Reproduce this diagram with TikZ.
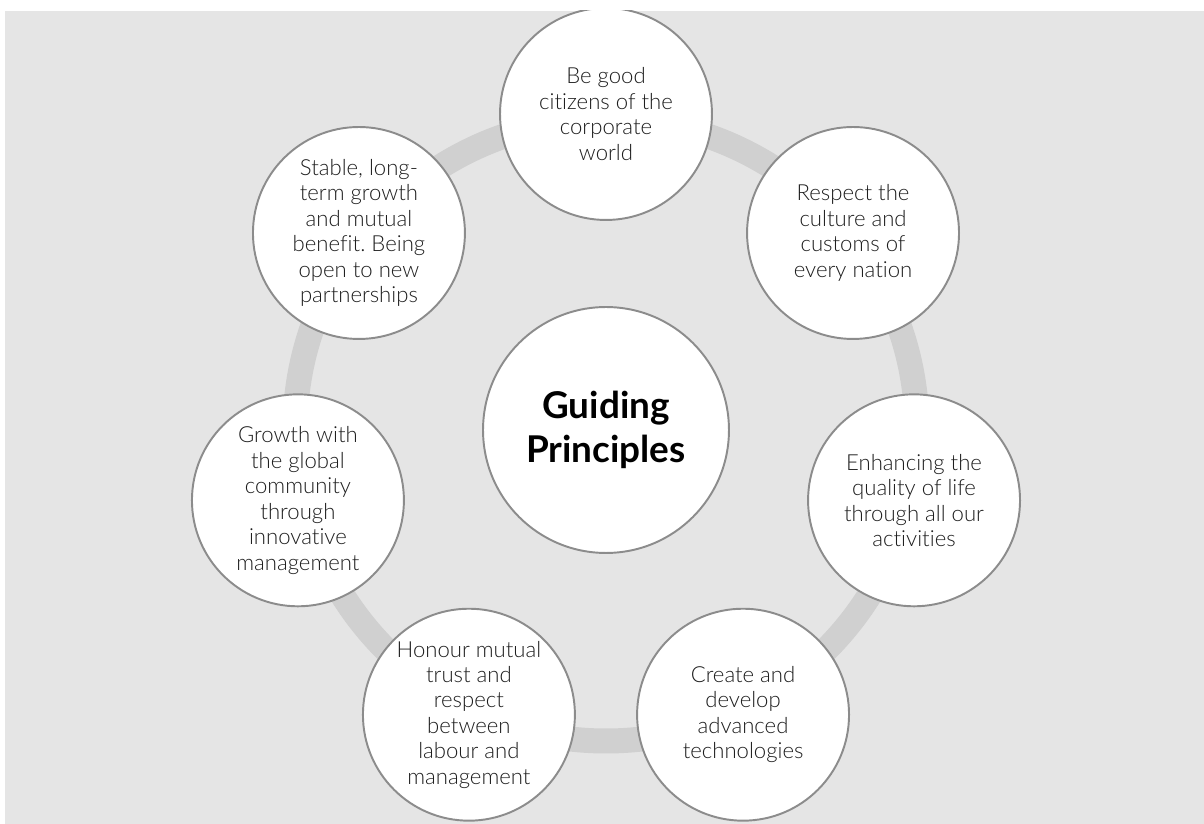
\documentclass[tikz,border=0pt]{standalone}
\usepackage{fontspec}
\setmainfont{Lato}[Ligatures=NoCommon]
\newfontfamily\thinfont{Lato Light}[Ligatures=NoCommon]
\frenchspacing
\usetikzlibrary{positioning}
\definecolor{panelgrey}{HTML}{E5E5E5}
\definecolor{ringgrey}{HTML}{D0D0D0}
\definecolor{rimgrey}{HTML}{8C8C8C}
\definecolor{inkgrey}{HTML}{1E1E1E}
\tikzset{hub/.style={circle,      fill=white,draw=rimgrey,line width=1.1pt,text=black,  minimum size=4.92cm,inner sep=0mm,align=center,font=\fontsize{21}{25}\selectfont\bfseries}}
\tikzset{principle/.style={circle,fill=white,draw=rimgrey,line width=1.1pt,text=inkgrey,minimum size=4.24cm,inner sep=0mm,align=center,font=\thinfont\fontsize{12.6}{14.5}\selectfont}}
\tikzset{ring/.style={draw=ringgrey,line width=0.5cm}}
\begin{document}
\begin{tikzpicture}[x=0.02cm,y=0.02cm]
    \useasboundingbox (-606,-394) rectangle (598,430);
    \fill[panelgrey] (-601,-394) rectangle (598,419);

    \begin{scope}
    \clip (-601,-394) rectangle (598,419);
    \draw[ring] (0,0) circle (311);

    \node[hub]       (gp)      at (0,0)          {Guiding\\Principles};
    \node[principle] (world)   at (90:316)       {Be good\\citizens of the\\corporate\\world};
    \node[principle] (culture) at (38.57:316)    {Respect the\\culture and\\customs of\\every nation};
    \node[principle] (life)    at (-12.86:316)   {Enhancing the\\quality of life\\through all our\\activities};
    \node[principle] (tech)    at (-64.29:316)   {Create and\\develop\\advanced\\technologies};
    \node[principle] (trust)   at (-115.71:316)  {Honour mutual\\trust and\\respect\\between\\labour and\\management};
    \node[principle] (growth)  at (-167.14:316)  {Growth with\\the global\\community\\through\\innovative\\management};
    \node[principle] (stable)  at (141.43:316)   {Stable, long-\\term growth\\and mutual\\benefit. Being\\open to new\\partnerships};
    \end{scope}
  \end{tikzpicture}
\end{document}
